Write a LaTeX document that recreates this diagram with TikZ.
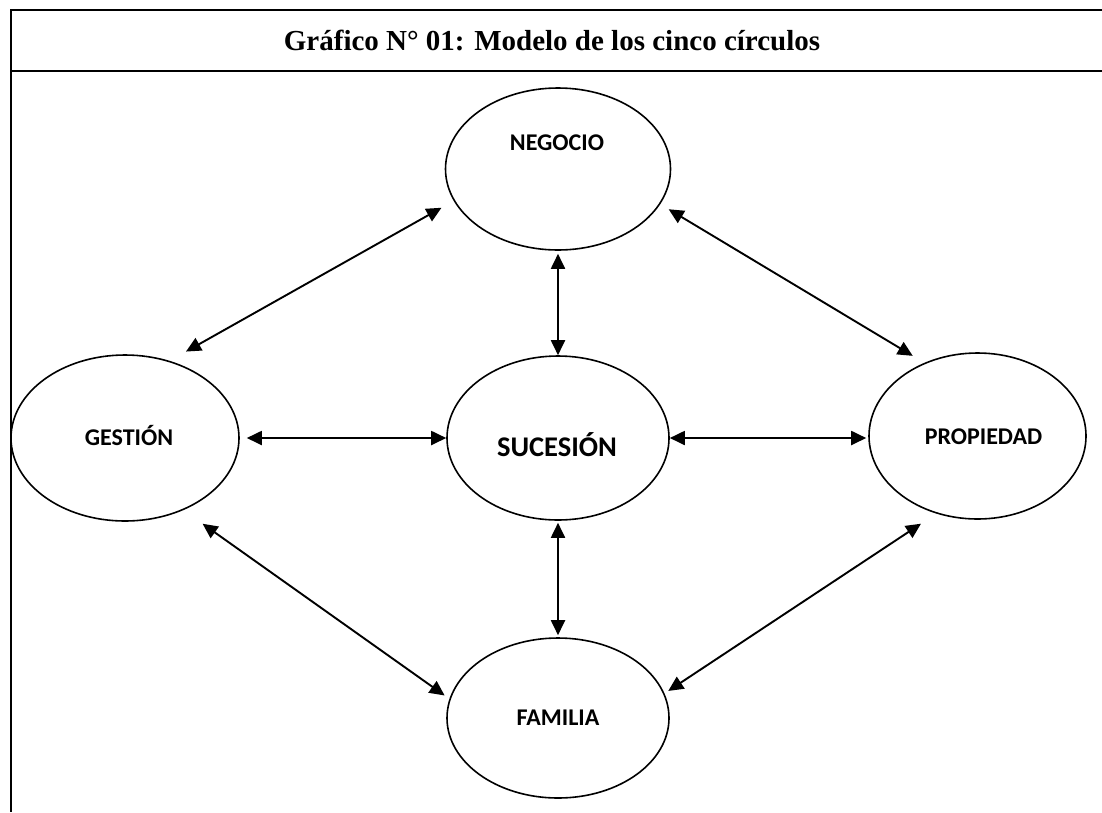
\documentclass[tikz,border=0pt]{standalone}
\usepackage{fontspec}
\setmainfont{Liberation Serif}
\newfontfamily\lblfont{Carlito}
\usetikzlibrary{arrows.meta,shapes.geometric}
\begin{document}
\begin{tikzpicture}[x=1pt,y=-1pt,
  frame/.style={line width=2pt},
  oval/.style={draw, ellipse, line width=1.6pt, inner sep=0pt},
  lbl/.style={anchor=base, inner sep=0pt, font=\lblfont\bfseries\fontsize{24}{28}\selectfont},
  biglbl/.style={anchor=base, inner sep=0pt, font=\lblfont\bfseries\fontsize{28.5}{34}\selectfont},
  arr/.style={line width=1.9pt, {Triangle[length=15pt,width=14pt]}-{Triangle[length=15pt,width=14pt]}}]
\useasboundingbox (0,0) rectangle (1102,812);

% table frame with title row
\draw[frame] (1102,9.5) -- (10.5,9.5) -- (10.5,812);
\draw[frame] (10.5,71) -- (1102,71);
\node[font=\bfseries\fontsize{29}{34}\selectfont] (title) at (552,40)
  {Gráfico N° 01: Modelo de los cinco círculos};

% the five circles
\node[oval, minimum width=225pt, minimum height=162pt] (neg) at (558,169) {};
\node[oval, minimum width=222pt, minimum height=164pt] (suc) at (558,438) {};
\node[oval, minimum width=228pt, minimum height=166pt] (ges) at (125,438) {};
\node[oval, minimum width=217pt, minimum height=166pt] (pro) at (977.5,436) {};
\node[oval, minimum width=222pt, minimum height=160pt] (fam) at (558,718) {};

\node[lbl] (negtxt) at (557,150) {NEGOCIO};
\node[biglbl] (suctxt) at (557,456) {SUCESIÓN};
\node[lbl] (gestxt) at (129,445) {GESTIÓN};
\node[lbl] (protxt) at (983.5,444) {PROPIEDAD};
\node[lbl] (famtxt) at (558,725) {FAMILIA};

% two-way links
\draw[arr, shorten <=14pt, shorten >=18.8pt] (neg.197.3) -- (ges.60.4);
\draw[arr, shorten <=9.8pt, shorten >=13.5pt] (neg.341.6) -- (pro.126.6);
\draw[arr, shorten <=3pt] (neg.south) -- (suc.north);
\draw[arr, shorten <=7pt] (ges.east) -- (suc.west);
\draw[arr, shorten >=2pt] (suc.east) -- (suc.east -| pro.west);
\draw[arr, shorten <=2pt, shorten >=2pt] (suc.south) -- (fam.north);
\draw[arr, shorten <=23.5pt, shorten >=5.8pt] (ges.309.6) -- (fam.170.8);
\draw[arr, shorten <=18.3pt, shorten >=4.5pt] (pro.242.1) -- (fam.13.6);
\end{tikzpicture}
\end{document}
